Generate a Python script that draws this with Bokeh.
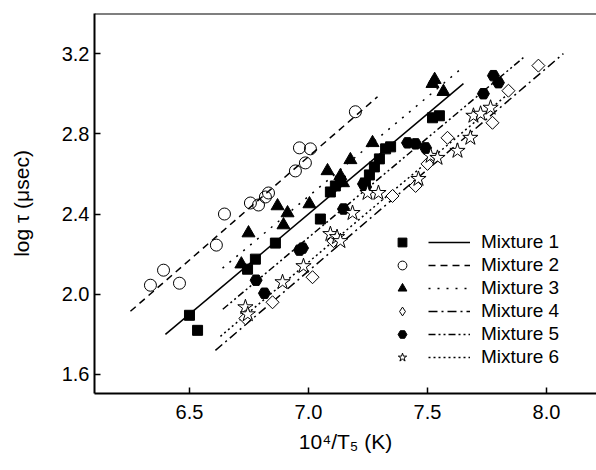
from bokeh.plotting import figure
from bokeh.models import (Legend, LegendItem, Span, FixedTicker,
                          NumeralTickFormatter, Range1d)
from bokeh.embed import file_html
from bokeh.resources import INLINE

# ---------------- data ----------------
m1_x = [6.500, 6.534, 6.744, 6.777, 6.861, 7.050, 7.092, 7.113, 7.134, 7.239,
        7.256, 7.277, 7.298, 7.324, 7.345, 7.521, 7.550]
m1_y = [1.895, 1.820, 2.125, 2.175, 2.255, 2.375, 2.510, 2.540, 2.565, 2.555,
        2.595, 2.635, 2.675, 2.725, 2.735, 2.880, 2.890]

m2_x = [6.336, 6.391, 6.458, 6.613, 6.647, 6.756, 6.790, 6.819, 6.832, 6.945,
        6.987, 6.962, 7.008, 7.197]
m2_y = [2.045, 2.120, 2.055, 2.245, 2.400, 2.455, 2.445, 2.485, 2.505, 2.615,
        2.655, 2.730, 2.725, 2.910]

m3_x = [6.718, 6.748, 6.870, 6.895, 6.912, 7.004, 7.080, 7.134, 7.145, 7.176,
        7.269, 7.521, 7.530, 7.567]
m3_y = [2.150, 2.305, 2.440, 2.345, 2.405, 2.450, 2.615, 2.590, 2.555, 2.670,
        2.755, 3.050, 3.070, 3.010]

m4_x = [6.735, 6.849, 7.017, 7.105, 7.353, 7.450, 7.500, 7.584, 7.773, 7.840, 7.966]
m4_y = [1.880, 1.960, 2.085, 2.265, 2.490, 2.540, 2.650, 2.780, 2.855, 3.015, 3.140]

m5_x = [6.780, 6.815, 6.962, 6.975, 7.147, 7.231, 7.240, 7.416, 7.450, 7.492,
        7.735, 7.777, 7.798]
m5_y = [2.070, 2.005, 2.220, 2.230, 2.425, 2.550, 2.535, 2.755, 2.750, 2.730,
        3.000, 3.090, 3.055]

m6_x = [6.735, 6.745, 6.891, 6.979, 7.092, 7.120, 7.134, 7.185, 7.248, 7.294,
        7.462, 7.513, 7.542, 7.626, 7.680, 7.693, 7.723, 7.765]
m6_y = [1.935, 1.900, 2.060, 2.140, 2.300, 2.285, 2.265, 2.405, 2.505, 2.505,
        2.575, 2.690, 2.680, 2.715, 2.780, 2.890, 2.900, 2.930]

# fitted lines (end points)
fit1_x = [6.399, 7.651]; fit1_y = [1.800, 3.050]
fit2_x = [6.252, 7.290]; fit2_y = [1.915, 2.985]
fit3_x = [6.639, 7.647]; fit3_y = [2.130, 3.130]
fit4_x = [6.609, 8.071]; fit4_y = [1.720, 3.200]
fit5_x = [6.640, 7.903]; fit5_y = [1.925, 3.180]
fit6_x = [6.630, 7.850]; fit6_y = [1.790, 3.010]

names = ["Mixture 1", "Mixture 2", "Mixture 3", "Mixture 4", "Mixture 5", "Mixture 6"]
x_ticks = [6.5, 7.0, 7.5, 8.0]
y_ticks = [1.6, 2.0, 2.4, 2.8, 3.2]

FONT = "Liberation Sans"
W, H = 596, 470
BL, BR, BT, BB = 94, 0, 13, 77
X0, X1 = 6.101, 8.21
Y0, Y1 = 1.505, 3.40

p = figure(width=W, height=H, x_range=Range1d(X0, X1),
           y_range=Range1d(Y0, Y1), output_backend="svg",
           toolbar_location=None, min_border_left=BL, min_border_right=BR,
           min_border_top=BT, min_border_bottom=BB)
p.grid.visible = False
p.outline_line_color = None
p.background_fill_color = "white"

for ax in (p.xaxis[0], p.yaxis[0]):
    ax.axis_line_width = 2
    ax.axis_line_color = "black"
    ax.major_tick_line_width = 1.5
    ax.major_tick_in = 6
    ax.major_tick_out = 0
    ax.minor_tick_line_color = None
    ax.major_label_text_font = FONT
    ax.major_label_text_font_size = "20px"
    ax.major_label_text_color = "black"
    ax.axis_label_text_font = FONT
    ax.axis_label_text_font_style = "normal"
    ax.axis_label_text_font_size = "21px"
    ax.axis_label_text_color = "black"

p.xaxis.ticker = FixedTicker(ticks=x_ticks)
p.yaxis.ticker = FixedTicker(ticks=y_ticks)
p.xaxis.formatter = NumeralTickFormatter(format="0.0")
p.yaxis.formatter = NumeralTickFormatter(format="0.0")
p.xaxis.major_label_standoff = 11
p.yaxis.major_label_standoff = 5
p.yaxis.axis_label = "log τ (μsec)"
p.yaxis.axis_label_standoff = 26
p.xaxis.axis_label = "10⁴/T₅ (K)"
p.xaxis.axis_label_standoff = 8

p.add_layout(Span(location=p.y_range.end, dimension="width",
                  line_color="black", line_width=2))

lw = 1.5
l1 = p.line(fit1_x, fit1_y, line_color="black", line_width=lw)
l2 = p.line(fit2_x, fit2_y, line_color="black", line_width=lw, line_dash="7 5")
l3 = p.line(fit3_x, fit3_y, line_color="black", line_width=lw, line_dash="2 7")
l4 = p.line(fit4_x, fit4_y, line_color="black", line_width=lw, line_dash="9 4 2 4")
l5 = p.line(fit5_x, fit5_y, line_color="black", line_width=lw, line_dash="7 3 2 3 2 3")
l6 = p.line(fit6_x, fit6_y, line_color="black", line_width=lw, line_dash="2 3")

s1 = p.scatter(m1_x, m1_y, marker="square", size=10, fill_color="black", line_color="black")
s2 = p.scatter(m2_x, m2_y, marker="circle", size=12, fill_color="white", fill_alpha=0,
               line_color="black", line_width=1)
s3 = p.scatter(m3_x, m3_y, marker="triangle", size=13, fill_color="black", line_color="black")

# Mixture 4: a diamond marker (it gives the legend glyph) covered by open diamonds
# of equal width and height, as in the reference; their half-diagonal of 6.5 screen
# px is turned into data units through the frame's own scale
s4 = p.scatter(m4_x, m4_y, marker="diamond", size=11, fill_color="white",
               line_color="black", line_width=1)
px_x = (W - BL - BR) / (X1 - X0)
px_y = (H - BT - BB) / (Y1 - Y0)
hd = 6.5
dx, dy = hd / px_x, hd / px_y
dxs = [[x, x + dx, x, x - dx] for x in m4_x]
dys = [[y + dy, y, y - dy, y] for y in m4_y]
p.patches(dxs, dys, fill_color="white", line_color="black", line_width=1)

s5 = p.scatter(m5_x, m5_y, marker="hex", size=12, fill_color="black", line_color="black")
s6 = p.scatter(m6_x, m6_y, marker="star", size=16, fill_color="white", line_color="black",
               line_width=1)

def make_legend(items, x, gw):
    lg = Legend(items=items, location=(x, 25), orientation="vertical",
                glyph_width=gw, glyph_height=22, label_height=20, spacing=1,
                padding=0, margin=0, border_line_color=None,
                background_fill_alpha=0, label_standoff=11,
                label_text_font=FONT, label_text_font_size="19px",
                label_text_color="black")
    p.add_layout(lg, "center")

scat = [s1, s2, s3, s4, s5, s6]
lines = [l1, l2, l3, l4, l5, l6]
make_legend([LegendItem(label="", renderers=[s]) for s in scat], 297, 22)
make_legend([LegendItem(label=n, renderers=[l]) for n, l in zip(names, lines)], 334, 42)

open("out.html", "w").write(file_html(p, INLINE))
